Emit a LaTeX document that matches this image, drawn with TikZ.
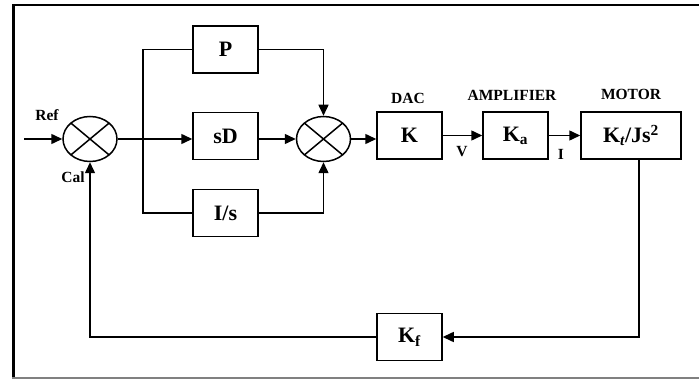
\documentclass[tikz,border=0pt]{standalone}
\usepackage{fontspec}
\setmainfont{Liberation Serif}
\usetikzlibrary{arrows.meta,shapes.geometric}
\tikzset{
  blk/.style={draw, line width=1.5pt, minimum width=65pt, minimum height=47pt, inner sep=0pt, font=\fontsize{22}{25}\selectfont\bfseries},
  sumj/.style={ellipse, draw, line width=1.5pt, minimum width=54pt, minimum height=45pt, inner sep=0pt,
    path picture={\draw[line width=1.5pt] (path picture bounding box.north west)--(path picture bounding box.south east)
      (path picture bounding box.north east)--(path picture bounding box.south west);}},
  lbl/.style={font=\fontsize{15.5}{18}\selectfont\bfseries, inner sep=0pt},
  wire/.style={line width=1.5pt},
  arr/.style={wire, -{Triangle[length=11pt,width=10pt]}}
}
\begin{document}
\begin{tikzpicture}[x=1pt,y=-1pt]
\useasboundingbox (0,0) rectangle (699,379);
% frame
\draw[line width=3pt] (13.5,378) -- (13.5,5);
\draw[line width=2.5pt] (12,5) -- (699,5);
\draw[line width=1.2pt, gray] (12,378) -- (699,378);
% nodes
\node[sumj] (s1) at (90,139) {};
\node[sumj] (s2) at (323.5,139) {};
\node[blk] (P) at (225.5,49.5) {P};
\node[blk] (sD) at (225.5,136) {sD};
\node[blk] (Is) at (225.5,213) {I/s};
\node[blk] (K) at (409.5,135.5) {K};
\node[blk] (Ka) at (515.5,135.5) {K\textsubscript{a}};
\node[blk, minimum width=100pt] (M) at (631,135.5) {K\textsubscript{\itshape t}/Js\textsuperscript{2}};
\node[blk] (Kf) at (409.5,337) {K\textsubscript{f}};
% labels
\node[lbl] (lref) at (47,115) {Ref};
\node[lbl] (lcal) at (73,177) {Cal};
\node[lbl] (ldac) at (408,98) {DAC};
\node[lbl] (lamp) at (512,95) {AMPLIFIER};
\node[lbl] (lmot) at (631,94) {MOTOR};
\node[lbl] (lv) at (462,152) {V};
\node[lbl] (li) at (561,154) {I};
% coordinates
\coordinate (ref) at (24,139);
\coordinate (br) at (143,139);
\coordinate (mdown) at ([xshift=8pt]M.south);
% connectors
\draw[arr] (ref) -- (s1.west);
\draw[arr] (s1.east) -- (s1.east -| sD.west);
\draw[wire] (P.west) -| (br) |- (Is.west);
\draw[arr] (P.east) -| (s2.north);
\draw[arr] (Is.east) -| (s2.south);
\draw[arr] (s2.west -| sD.east) -- (s2.west);
\draw[arr] (s2.east) -- (s2.east -| K.west);
\draw[arr] (K.east) -- (Ka.west);
\draw[arr] (Ka.east) -- (M.west);
\draw[arr] (mdown) |- (Kf.east);
\draw[arr] (Kf.west) -| (s1.south);
\end{tikzpicture}
\end{document}
